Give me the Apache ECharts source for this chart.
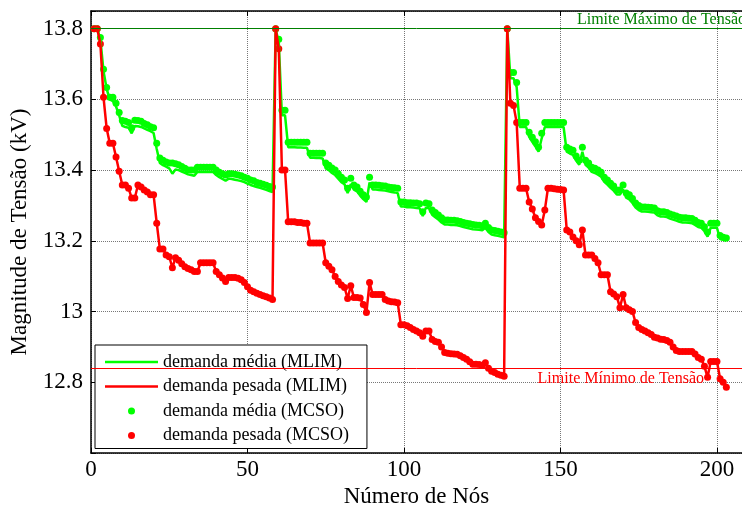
<!DOCTYPE html>
<html>
<head>
<meta charset="utf-8">
<script src="https://cdn.jsdelivr.net/npm/echarts@6/dist/echarts.min.js"></script>
<style>
  html, body { margin: 0; padding: 0; background: #fff; }
  #chart { width: 742px; height: 509px; }
</style>
</head>
<body>
<div id="chart"></div>
<script>
// tensão por nó (kV), nós 1..203
var mlimMedia = [
  13.8, 13.8, 13.77, 13.68, 13.63, 13.6, 13.595, 13.58, 13.555, 13.525,
  13.522, 13.52, 13.504, 13.525, 13.524, 13.522, 13.518, 13.514, 13.51, 13.505,
  13.46, 13.42, 13.414, 13.41, 13.405, 13.39, 13.402, 13.4, 13.396, 13.392,
  13.388, 13.386, 13.384, 13.395, 13.395, 13.395, 13.395, 13.395, 13.395, 13.386,
  13.38, 13.375, 13.37, 13.376, 13.375, 13.373, 13.371, 13.369, 13.366, 13.362,
  13.358, 13.355, 13.352, 13.35, 13.347, 13.344, 13.341, 13.338, 13.8, 13.76,
  13.555, 13.555, 13.465, 13.465, 13.465, 13.464, 13.464, 13.463, 13.463, 13.435,
  13.435, 13.434, 13.434, 13.433, 13.405, 13.4, 13.392, 13.386, 13.376, 13.366,
  13.36, 13.335, 13.36, 13.345, 13.34, 13.328, 13.318, 13.31, 13.365, 13.345,
  13.345, 13.344, 13.343, 13.342, 13.34, 13.338, 13.337, 13.335, 13.297, 13.297,
  13.295, 13.295, 13.294, 13.293, 13.292, 13.27, 13.294, 13.292, 13.274, 13.267,
  13.26, 13.252, 13.246, 13.246, 13.245, 13.245, 13.244, 13.242, 13.239, 13.237,
  13.235, 13.233, 13.232, 13.231, 13.23, 13.237, 13.225, 13.218, 13.216, 13.214,
  13.212, 13.21, 13.8, 13.66, 13.66, 13.635, 13.522, 13.522, 13.522, 13.494,
  13.48, 13.467, 13.452, 13.49, 13.522, 13.522, 13.522, 13.522, 13.522, 13.522,
  13.522, 13.452, 13.447, 13.443, 13.427, 13.415, 13.452, 13.415, 13.407, 13.395,
  13.392, 13.387, 13.381, 13.367, 13.359, 13.35, 13.342, 13.331, 13.331, 13.345,
  13.322, 13.317, 13.307, 13.294, 13.287, 13.283, 13.283, 13.282, 13.281, 13.28,
  13.272, 13.269, 13.269, 13.267, 13.263, 13.26, 13.257, 13.254, 13.252, 13.252,
  13.251, 13.25, 13.245, 13.239, 13.237, 13.227, 13.212, 13.237, 13.237, 13.237,
  13.205, 13.203, 13.2
];
var mlimPesada = [
  13.8, 13.8, 13.757, 13.606, 13.518, 13.476, 13.476, 13.437, 13.397, 13.358,
  13.358, 13.349, 13.321, 13.321, 13.358, 13.352, 13.344, 13.338, 13.33, 13.33,
  13.25, 13.177, 13.177, 13.16, 13.155, 13.124, 13.152, 13.145, 13.135, 13.127,
  13.122, 13.118, 13.113, 13.113, 13.138, 13.138, 13.138, 13.138, 13.138, 13.113,
  13.104, 13.095, 13.085, 13.096, 13.096, 13.096, 13.094, 13.09, 13.082, 13.07,
  13.06, 13.056, 13.052, 13.048, 13.045, 13.042, 13.038, 13.034, 13.8, 13.743,
  13.4, 13.4, 13.254, 13.254, 13.254, 13.252, 13.252, 13.25, 13.25, 13.194,
  13.194, 13.194, 13.194, 13.194, 13.138, 13.128, 13.118, 13.099, 13.085, 13.075,
  13.068, 13.037, 13.073, 13.04, 13.04, 13.038, 13.02, 12.997, 13.082, 13.048,
  13.048, 13.048, 13.048, 13.034, 13.03, 13.028, 13.027, 13.025, 12.963, 12.963,
  12.96, 12.955, 12.949, 12.945, 12.94, 12.93, 12.945, 12.945, 12.921, 12.915,
  12.913, 12.9, 12.884, 12.882, 12.881, 12.88, 12.879, 12.875, 12.87, 12.865,
  12.858, 12.851, 12.851, 12.85, 12.848, 12.855, 12.84, 12.831, 12.828, 12.823,
  12.82, 12.817, 13.8, 13.589, 13.583, 13.535, 13.349, 13.349, 13.349, 13.31,
  13.29, 13.265, 13.255, 13.245, 13.287, 13.349, 13.349, 13.347, 13.346, 13.345,
  13.344, 13.231, 13.225, 13.211, 13.2, 13.189, 13.231, 13.16, 13.16, 13.16,
  13.15, 13.138, 13.104, 13.104, 13.104, 13.056, 13.05, 13.042, 13.011, 13.048,
  13.011, 13.005, 13.0, 12.969, 12.955, 12.949, 12.945, 12.94, 12.935, 12.927,
  12.925, 12.922, 12.921, 12.918, 12.913, 12.9, 12.89, 12.887, 12.887, 12.887,
  12.887, 12.887, 12.88, 12.87, 12.865, 12.845, 12.814, 12.859, 12.859, 12.859,
  12.81, 12.8, 12.786
];
var mcsoMedia = [
  13.8, 13.8, 13.775, 13.685, 13.634, 13.606, 13.606, 13.589, 13.563, 13.54,
  13.538, 13.535, 13.52, 13.541, 13.54, 13.538, 13.532, 13.528, 13.523, 13.52,
  13.476, 13.434, 13.428, 13.423, 13.42, 13.42, 13.418, 13.415, 13.41, 13.405,
  13.4, 13.4, 13.4, 13.408, 13.408, 13.408, 13.408, 13.408, 13.408, 13.4,
  13.394, 13.39, 13.386, 13.39, 13.39, 13.388, 13.386, 13.384, 13.38, 13.377,
  13.372, 13.37, 13.365, 13.363, 13.36, 13.357, 13.354, 13.352, 13.8, 13.77,
  13.569, 13.569, 13.479, 13.479, 13.479, 13.479, 13.479, 13.479, 13.479, 13.448,
  13.448, 13.448, 13.448, 13.448, 13.42, 13.414, 13.406, 13.4, 13.39, 13.38,
  13.372, 13.349, 13.377, 13.358, 13.352, 13.34, 13.33, 13.324, 13.38, 13.358,
  13.358, 13.357, 13.356, 13.355, 13.352, 13.351, 13.35, 13.349, 13.31, 13.31,
  13.308, 13.308, 13.307, 13.307, 13.305, 13.282, 13.307, 13.305, 13.287, 13.28,
  13.273, 13.265, 13.259, 13.259, 13.258, 13.258, 13.257, 13.255, 13.252, 13.25,
  13.248, 13.246, 13.245, 13.244, 13.243, 13.25, 13.238, 13.231, 13.229, 13.227,
  13.225, 13.223, 13.8, 13.676, 13.676, 13.648, 13.535, 13.535, 13.535, 13.507,
  13.493, 13.48, 13.465, 13.504, 13.535, 13.535, 13.535, 13.535, 13.535, 13.535,
  13.535, 13.465, 13.46, 13.456, 13.44, 13.428, 13.465, 13.428, 13.42, 13.408,
  13.405, 13.4, 13.394, 13.38, 13.372, 13.363, 13.355, 13.344, 13.344, 13.358,
  13.335, 13.33, 13.32, 13.307, 13.3, 13.296, 13.296, 13.295, 13.294, 13.293,
  13.285, 13.282, 13.282, 13.28, 13.276, 13.273, 13.27, 13.267, 13.265, 13.265,
  13.264, 13.263, 13.258, 13.252, 13.25, 13.24, 13.225, 13.25, 13.25, 13.25,
  13.215, 13.21, 13.208
];
// MCSO pesada coincide com MLIM pesada no gráfico
var mcsoPesada = mlimPesada;

var limiteMax = 13.8;
var limiteMin = 12.842;

var serif = '"Liberation Serif", "DejaVu Serif", serif';
var iconeLinha = 'path://M0,0h53v2.5h-53z';

function pares(vals) {
  var res = [];
  for (var i = 0; i < vals.length; i++) {
    res.push([i + 1, vals[i]]);
  }
  return res;
}

var myChart = echarts.init(document.getElementById('chart'));

var option = {
  animation: false,
  backgroundColor: '#fff',
  grid: { left: 91, right: 0, top: 11, bottom: 56, outerBoundsMode: 'none', containLabel: false },
  legend: {
    left: 95,
    top: 345,
    orient: 'vertical',
    backgroundColor: '#fff',
    borderColor: '#000',
    borderWidth: 1,
    padding: [8, 18, 4, 10],
    itemWidth: 53,
    itemHeight: 7,
    itemGap: 6.5,
    textStyle: { fontFamily: serif, fontSize: 18, color: '#000', lineHeight: 18 },
    data: [
      { name: 'demanda média (MLIM)', icon: iconeLinha },
      { name: 'demanda pesada (MLIM)', icon: iconeLinha },
      { name: 'demanda média (MCSO)', icon: 'circle' },
      { name: 'demanda pesada (MCSO)', icon: 'circle' }
    ]
  },
  xAxis: [{
    type: 'value',
    min: 0,
    max: 208,
    interval: 50,
    name: 'Número de Nós',
    nameLocation: 'middle',
    nameGap: 31,
    nameTextStyle: { fontFamily: serif, fontSize: 23, color: '#000' },
    axisLine: { lineStyle: { color: '#000', width: 1.5 } },
    axisTick: { inside: true, length: 5, lineStyle: { color: '#000' } },
    axisLabel: {
      fontFamily: serif, fontSize: 23, color: '#000', margin: 5,
      formatter: function (v) { return v % 50 === 0 ? String(v) : ''; }
    },
    splitLine: { show: true, lineStyle: { color: '#777', type: 'dotted', width: 1 } }
  }, {
    type: 'value',
    position: 'top',
    min: 0,
    max: 208,
    interval: 50,
    axisLine: { lineStyle: { color: '#000', width: 1.5 } },
    axisTick: { inside: true, length: 5, lineStyle: { color: '#000' } },
    axisLabel: { show: false },
    splitLine: { show: false }
  }],
  yAxis: {
    type: 'value',
    min: 12.6,
    max: 13.85,
    interval: 0.2,
    name: 'Magnitude de Tensão (kV)',
    nameLocation: 'middle',
    nameGap: 57,
    nameTextStyle: { fontFamily: serif, fontSize: 23, color: '#000' },
    axisLine: { show: true, lineStyle: { color: '#000', width: 1.5 } },
    axisTick: { show: true, inside: true, length: 5, lineStyle: { color: '#000' } },
    axisLabel: {
      fontFamily: serif, fontSize: 23, color: '#000', margin: 8,
      formatter: function (v) {
        if (v < 12.7 || v > 13.81) return '';
        return String(Math.round(v * 10) / 10);
      }
    },
    splitLine: { show: true, lineStyle: { color: '#777', type: 'dotted', width: 1 } }
  },
  series: [
    {
      name: 'demanda média (MLIM)',
      type: 'line',
      data: pares(mlimMedia),
      symbol: 'none',
      color: '#00ff00',
      lineStyle: { color: '#00ff00', width: 2.5 },
      markLine: {
        silent: true,
        symbol: 'none',
        lineStyle: { color: '#008000', width: 1, type: 'solid' },
        label: {
          position: 'insideEndTop',
          distance: 1,
          offset: [5, 0],
          formatter: 'Limite Máximo de Tensão',
          fontFamily: serif, fontSize: 16, color: '#008000'
        },
        data: [{ yAxis: limiteMax }]
      }
    },
    {
      name: 'demanda pesada (MLIM)',
      type: 'line',
      data: pares(mlimPesada),
      symbol: 'none',
      color: '#ff0000',
      lineStyle: { color: '#ff0000', width: 2.5 },
      markLine: {
        silent: true,
        symbol: 'none',
        lineStyle: { color: '#ff0000', width: 1, type: 'solid' },
        label: {
          position: 'insideEndBottom',
          distance: 3,
          padding: [0, 35, 0, 0],
          formatter: 'Limite Mínimo de Tensão',
          fontFamily: serif, fontSize: 16, color: '#ff0000'
        },
        data: [{ yAxis: limiteMin }]
      }
    },
    {
      name: 'demanda média (MCSO)',
      type: 'scatter',
      data: pares(mcsoMedia),
      symbolSize: 7,
      itemStyle: { color: '#00ff00', opacity: 1 }
    },
    {
      name: 'demanda pesada (MCSO)',
      type: 'scatter',
      data: pares(mcsoPesada),
      symbolSize: 7,
      itemStyle: { color: '#ff0000', opacity: 1 }
    }
  ]
};

myChart.setOption(option);
window.addEventListener('resize', function () {
  myChart.resize();
});
</script>
</body>
</html>
